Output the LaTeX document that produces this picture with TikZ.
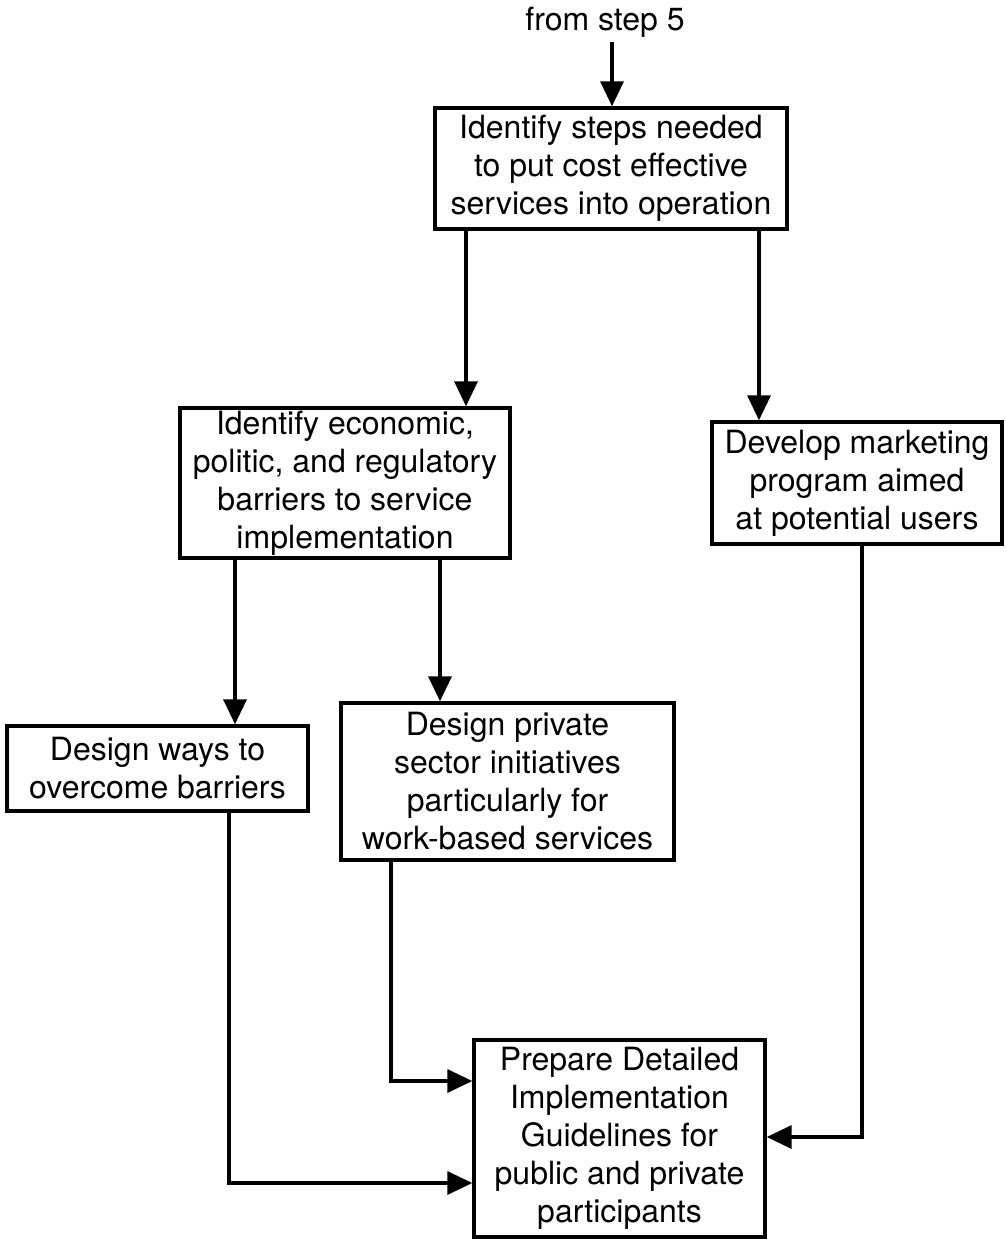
\documentclass[tikz,border=0pt]{standalone}
\usepackage{fontspec}
\setmainfont{TeX Gyre Heros}
\usetikzlibrary{arrows.meta,calc}
\begin{document}
\begin{tikzpicture}[x=1pt,y=-1pt,
  box/.style={draw,line width=3.4pt,align=center,inner sep=0pt,
    font=\fontsize{32}{38}\selectfont},
  arr/.style={line width=3.4pt,-{Triangle[length=25pt,width=23pt]}},
  ln/.style={line width=3.4pt}]
\useasboundingbox (0,0) rectangle (1005,1239);
\node[font=\fontsize{32}{38}\selectfont] (from) at (605,22) {from step 5};
\node[box,minimum width=352pt,minimum height=121pt] (top) at (611,168.5)
  {Identify steps needed\\to put cost effective\\services into operation};
\node[box,minimum width=330pt,minimum height=150pt] (b2) at (345,483)
  {Identify economic,\\politic, and regulatory\\barriers to service\\implementation};
\node[box,minimum width=290pt,minimum height=122pt] (b3) at (857,483)
  {Develop marketing\\program aimed\\at potential users};
\node[box,minimum width=301pt,minimum height=85pt] (b4) at (157.5,768.5)
  {Design ways to\\overcome barriers};
\node[box,minimum width=333pt,minimum height=157pt] (b5) at (507.5,781.5)
  {Design private\\sector initiatives\\particularly for\\work-based services};
\node[box,minimum width=291pt,minimum height=197pt] (b6) at (619.5,1138.5)
  {Prepare Detailed\\Implementation\\Guidelines for\\public and private\\participants};
\coordinate (s0) at (612,42);
\coordinate (x1) at (466,0);
\coordinate (x2) at (759,0);
\coordinate (x3) at (235,0);
\coordinate (x4) at (440,0);
\coordinate (x5) at (229,0);
\coordinate (x6) at (391,0);
\coordinate (x7) at (862,0);
\coordinate (y5) at (0,1183);
\coordinate (y6) at (0,1081);
\coordinate (y7) at (0,1137);
\draw[arr] (s0) -- (top.north -| s0);
\draw[arr] (top.south -| x1) -- (b2.north -| x1);
\draw[arr] (top.south -| x2) -- (b3.north -| x2);
\draw[arr] (b2.south -| x3) -- (b4.north -| x3);
\draw[arr] (b2.south -| x4) -- (b5.north -| x4);
\draw[arr] (b4.south -| x5) |- (b6.west |- y5);
\draw[arr] (b5.south -| x6) |- (b6.west |- y6);
\draw[arr] (b3.south -| x7) |- (b6.east |- y7);
\end{tikzpicture}
\end{document}
